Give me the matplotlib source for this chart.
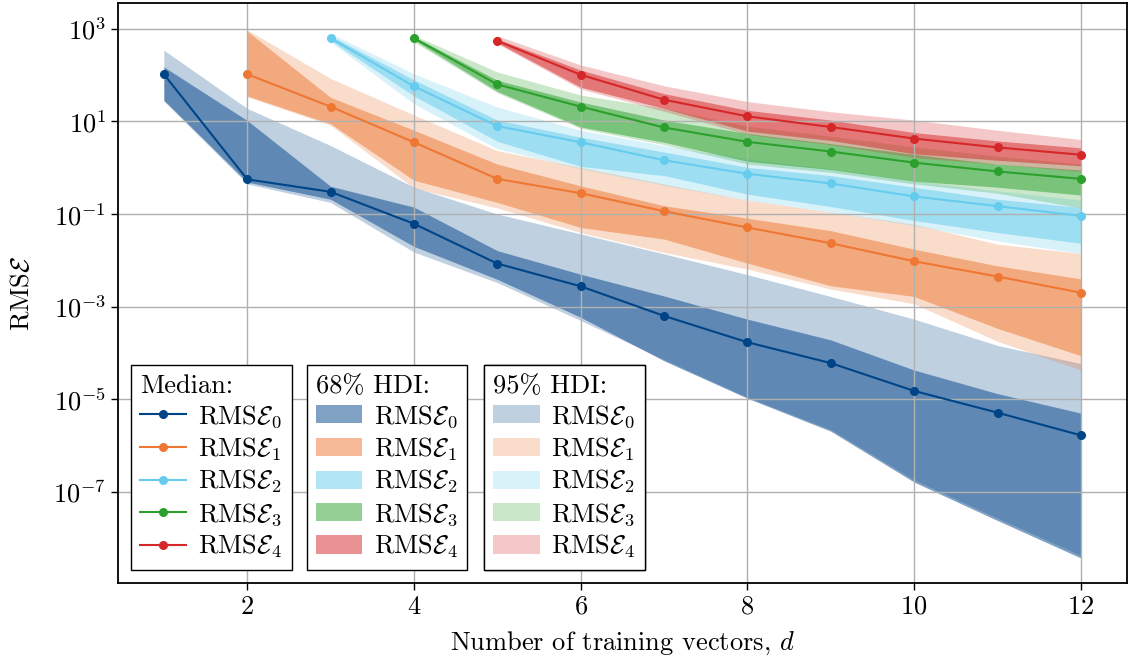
import matplotlib
matplotlib.use("Agg")
import matplotlib.pyplot as plt
from matplotlib.lines import Line2D
from matplotlib.patches import Patch

plt.rcParams.update({
    "font.family": "serif",
    "font.serif": ["cmr10"],
    "mathtext.fontset": "cm",
    "axes.formatter.use_mathtext": True,
    "font.size": 19,
})

# Number of training vectors d for each error order
d0 = [1, 2, 3, 4, 5, 6, 7, 8, 9, 10, 11, 12]
d1 = [2, 3, 4, 5, 6, 7, 8, 9, 10, 11, 12]
d2 = [3, 4, 5, 6, 7, 8, 9, 10, 11, 12]
d3 = [4, 5, 6, 7, 8, 9, 10, 11, 12]
d4 = [5, 6, 7, 8, 9, 10, 11, 12]

# RMS E_0
med0 = [105, 0.562, 0.302, 0.0617, 0.00851, 0.00275, 6.31e-4, 1.70e-4, 6.03e-5, 1.51e-5, 5.13e-6, 1.66e-6]
hi68_0 = [151, 10.5, 0.398, 0.141, 0.0162, 0.00501, 0.00170, 5.37e-4, 1.91e-4, 4.27e-5, 1.32e-5, 5.01e-6]
lo68_0 = [28.8, 0.490, 0.209, 0.0200, 0.00389, 5.89e-4, 6.76e-5, 1.05e-5, 2.04e-6, 1.62e-7, 2.40e-8, 3.72e-9]
hi95_0 = [347, 19.1, 3.02, 0.380, 0.100, 0.0372, 0.0138, 0.00490, 0.00166, 5.37e-4, 1.45e-4, 5.89e-5]
lo95_0 = [27.5, 0.447, 0.178, 0.0151, 0.00331, 5.01e-4, 7.2e-5, 1.1e-5, 2.2e-6, 1.8e-7, 2.7e-8, 4.2e-9]

# RMS E_1
med1 = [105, 20.9, 3.55, 0.575, 0.282, 0.115, 0.0513, 0.0234, 0.00955, 0.00447, 0.00200]
hi68_1 = [891, 33.1, 6.46, 1.20, 0.407, 0.151, 0.0813, 0.0437, 0.0174, 0.00759, 0.00398]
lo68_1 = [35.5, 8.91, 0.537, 0.178, 0.0513, 0.0288, 0.00871, 0.00282, 0.00166, 3.39e-4, 8.71e-5]
hi95_1 = [955, 85.1, 13.8, 2.34, 1.02, 0.447, 0.200, 0.110, 0.0603, 0.0224, 0.0141]
lo95_1 = [33.9, 8.32, 0.363, 0.135, 0.0398, 0.0148, 0.00646, 0.00240, 0.00115, 1.78e-4, 4.27e-5]

# RMS E_2
med2 = [631, 57.5, 7.94, 3.55, 1.45, 0.741, 0.457, 0.240, 0.148, 0.0912]
hi68_2 = [708, 79.4, 10.7, 4.57, 2.19, 1.02, 0.676, 0.380, 0.209, 0.138]
lo68_2 = [562, 35.5, 3.72, 1.07, 0.676, 0.269, 0.145, 0.0724, 0.0398, 0.0234]
hi95_2 = [794, 107, 20.4, 6.46, 3.02, 1.55, 0.955, 0.525, 0.316, 0.200]
lo95_2 = [525, 24.0, 2.57, 0.955, 0.417, 0.200, 0.110, 0.0562, 0.0263, 0.0141]

# RMS E_3
med3 = [631, 63.1, 20.9, 7.41, 3.63, 2.24, 1.29, 0.832, 0.575]
hi68_3 = [676, 77.6, 26.3, 10.7, 5.50, 3.31, 1.95, 1.20, 0.891]
lo68_3 = [575, 44.7, 7.59, 3.55, 1.38, 0.912, 0.513, 0.380, 0.257]
hi95_3 = [724, 117, 37.2, 19.1, 7.94, 4.79, 2.82, 1.78, 1.20]
lo95_3 = [525, 41.7, 7.08, 3.16, 1.20, 0.794, 0.447, 0.282, 0.135]

# RMS E_4
med4 = [550, 102, 29.5, 12.9, 7.59, 4.27, 2.75, 1.91]
hi68_4 = [603, 129, 39.8, 17.4, 10.7, 5.75, 3.80, 2.69]
lo68_4 = [501, 55.0, 19.1, 6.17, 3.89, 2.00, 1.45, 1.10]
hi95_4 = [708, 166, 58.9, 26.9, 16.2, 10.7, 6.46, 4.07]
lo95_4 = [479, 50.1, 16.6, 5.25, 3.16, 1.66, 1.20, 0.832]

series_labels = [r"RMS$\mathcal{E}_0$", r"RMS$\mathcal{E}_1$", r"RMS$\mathcal{E}_2$",
                 r"RMS$\mathcal{E}_3$", r"RMS$\mathcal{E}_4$"]
colors = ["#004488", "#EE7733", "#66CCEE", "#2CA02C", "#D62728"]

ds = [d0, d1, d2, d3, d4]
meds = [med0, med1, med2, med3, med4]
hi68 = [hi68_0, hi68_1, hi68_2, hi68_3, hi68_4]
lo68 = [lo68_0, lo68_1, lo68_2, lo68_3, lo68_4]
hi95 = [hi95_0, hi95_1, hi95_2, hi95_3, hi95_4]
lo95 = [lo95_0, lo95_1, lo95_2, lo95_3, lo95_4]

fig = plt.figure(figsize=(11.29, 6.66), dpi=100)
ax = fig.add_axes([0.1045, 0.1246, 0.8935, 0.871])

for i in range(5):
    ax.fill_between(ds[i], lo95[i], hi95[i], color=colors[i], alpha=0.25, lw=0)
    ax.fill_between(ds[i], lo68[i], hi68[i], color=colors[i], alpha=0.5, lw=0)
for i in range(5):
    ax.plot(ds[i], meds[i], color=colors[i], marker="o", ms=5.5, lw=1.5)

ax.set_yscale("log")
ax.set_xlim(0.45, 12.55)
ax.set_ylim(10 ** -8.97, 10 ** 3.56)
ax.set_xticks([2, 4, 6, 8, 10, 12])
ax.set_yticks([1e3, 1e1, 1e-1, 1e-3, 1e-5, 1e-7])
ax.yaxis.set_minor_locator(matplotlib.ticker.NullLocator())
ax.grid(True, color="#b0b0b0", lw=1.0)
ax.tick_params(length=5, width=1.0)
for s in ax.spines.values():
    s.set_linewidth(1.3)

ax.set_xlabel(r"Number of training vectors, $d$", labelpad=8)
ax.set_ylabel(r"RMS$\mathcal{E}$", labelpad=14)

legend_kw = dict(loc="upper left", fancybox=False, edgecolor="black", framealpha=1,
                 alignment="left", handlelength=1.75, handletextpad=0.45,
                 labelspacing=0.2, borderpad=0.35, borderaxespad=0,
                 fontsize=19, title_fontsize=19)

h_med = [Line2D([], [], color=c, marker="o", ms=5.5, lw=1.5) for c in colors]
h_68 = [Patch(facecolor=c, alpha=0.5, lw=0) for c in colors]
h_95 = [Patch(facecolor=c, alpha=0.25, lw=0) for c in colors]

anchors = [0.0129, 0.187, 0.363]
for handles, title, x0 in zip([h_med, h_68, h_95], ["Median:", "68% HDI:", "95% HDI:"], anchors):
    leg = ax.legend(handles, series_labels, title=title, bbox_to_anchor=(x0, 0.376), **legend_kw)
    leg.get_frame().set_linewidth(1.0)
    ax.add_artist(leg)

fig.savefig("out.png", dpi=100)
